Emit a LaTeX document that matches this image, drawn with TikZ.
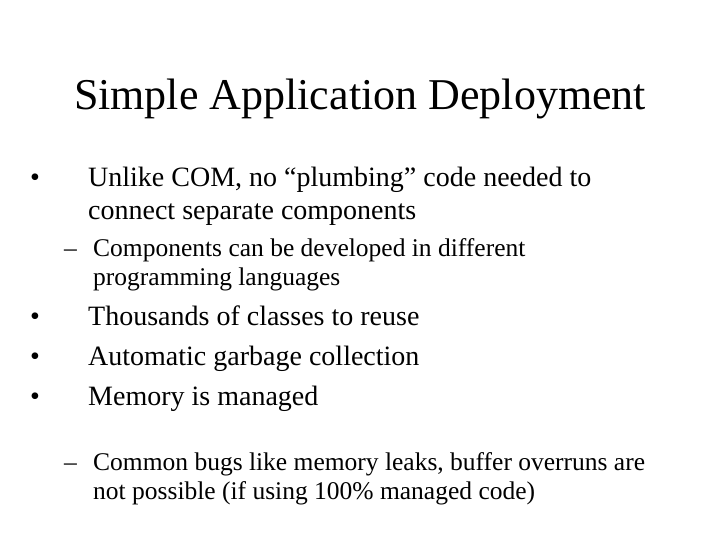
\documentclass[tikz,border=0pt]{standalone}
\usepackage{fontspec}
\setmainfont{Liberation Serif}
\begin{document}
\begin{tikzpicture}[x=1pt,y=-1pt,
  big/.style={anchor=base west,inner sep=0pt,font=\fontsize{28}{32}\selectfont},
  small/.style={anchor=base west,inner sep=0pt,font=\fontsize{25.5}{28}\selectfont}]
\useasboundingbox (0,0) rectangle (720,540);
\node[anchor=base,inner sep=0pt,font=\fontsize{44}{50}\selectfont] (title) at (360,110) {Simple Application Deployment};
\node[big] (b1) at (30,187) {•};
\node[big] (t1) at (88,187) {Unlike COM, no “plumbing” code needed to};
\node[big] (t1b) at (88,220) {connect separate components};
\node[small] (d1) at (64,256) {–};
\node[small] (s1) at (93,256) {Components can be developed in different};
\node[small] (s1b) at (93,285) {programming languages};
\node[big] (b2) at (30,325) {•};
\node[big] (t2) at (88,325) {Thousands of classes to reuse};
\node[big] (b3) at (30,365) {•};
\node[big] (t3) at (88,365) {Automatic garbage collection};
\node[big] (b4) at (30,405) {•};
\node[big] (t4) at (88,405) {Memory is managed};
\node[small] (d2) at (64,470) {–};
\node[small] (s2) at (93,470) {Common bugs like memory leaks, buffer overruns are};
\node[small] (s2b) at (93,499) {not possible (if using 100\% managed code)};
\end{tikzpicture}
\end{document}
